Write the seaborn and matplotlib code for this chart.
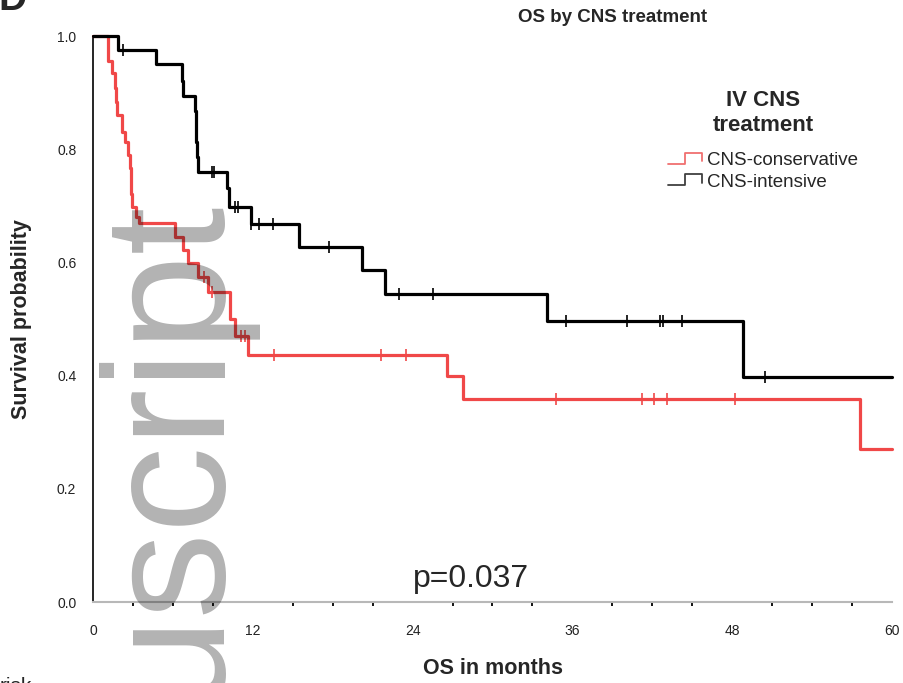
import numpy as np
import pandas as pd
import matplotlib
matplotlib.use('Agg')
import matplotlib.pyplot as plt
import seaborn as sns
from matplotlib.legend_handler import HandlerBase
from matplotlib.lines import Line2D
from matplotlib.ticker import MultipleLocator

# ---------------- data ----------------
groups = ['CNS-conservative', 'CNS-intensive']
group_colors = ['#f04848', '#000000']

cons_time = [0, 1.11, 1.40, 1.65, 1.75, 1.82, 2.15, 2.40, 2.65, 2.75, 2.82, 2.88, 2.95,
             3.23, 3.48, 6.16, 6.78, 7.16, 7.90, 8.60, 10.30, 10.65, 11.65, 26.6, 27.8,
             57.6, 60]
cons_surv = [1.0, 0.955, 0.935, 0.908, 0.884, 0.860, 0.830, 0.813, 0.790, 0.767, 0.744,
             0.721, 0.698, 0.681, 0.669, 0.645, 0.622, 0.599, 0.575, 0.548, 0.500, 0.470,
             0.436, 0.400, 0.359, 0.270, 0.270]
cons_censor = [8.3, 8.9, 11.1, 11.45, 13.6, 21.6, 23.5, 34.8, 41.2, 42.1, 43.1, 48.2]

int_time = [0, 1.9, 4.75, 6.66, 6.78, 7.66, 7.72, 7.76, 7.80, 7.85, 10.1, 10.23, 11.84,
            15.5, 20.2, 21.9, 34.1, 48.8, 60]
int_surv = [1.0, 0.975, 0.950, 0.920, 0.894, 0.867, 0.840, 0.813, 0.787, 0.760, 0.731,
            0.698, 0.667, 0.627, 0.587, 0.545, 0.497, 0.397, 0.397]
int_censor = [2.25, 8.95, 9.1, 10.65, 10.9, 11.9, 12.5, 13.5, 17.7, 23.0, 25.5, 35.5,
              40.1, 42.6, 42.8, 44.2, 50.5]

x_ticks = [0, 12, 24, 36, 48, 60]
y_ticks = [0.0, 0.2, 0.4, 0.6, 0.8, 1.0]

title_text = 'OS by CNS treatment'
x_label = 'OS in months'
y_label = 'Survival probability'
legend_title = 'IV CNS\ntreatment'
p_text = 'p=0.037'

# ---------------- style ----------------
sns.set_style('white')
plt.rcParams['font.family'] = ['Liberation Sans', 'DejaVu Sans']

fig = plt.figure(figsize=(9.04, 6.83), dpi=100)
ax = fig.add_axes([93/904, 1-602/683, 799/904, 566/683])

curves = pd.concat([
    pd.DataFrame({'time': cons_time, 'surv': cons_surv, 'group': groups[0]}),
    pd.DataFrame({'time': int_time, 'surv': int_surv, 'group': groups[1]}),
], ignore_index=True)

sns.lineplot(data=curves, x='time', y='surv', hue='group', hue_order=groups,
             palette=dict(zip(groups, group_colors)), drawstyle='steps-post',
             estimator=None, sort=False, linewidth=2.3, legend=False, ax=ax,
             clip_on=False, zorder=3)

def surv_at(times, survs, ts):
    times = np.asarray(times); survs = np.asarray(survs)
    idx = np.searchsorted(times, ts, side='right') - 1
    return survs[idx]

for tms, svs, cens, col in [(cons_time, cons_surv, cons_censor, group_colors[0]),
                            (int_time, int_surv, int_censor, group_colors[1])]:
    ax.plot(cens, surv_at(tms, svs, cens), linestyle='none', marker='|',
            markersize=9, markeredgewidth=1.2, color=col, zorder=4, clip_on=False)

ax.set_xlim(0, 60)
ax.set_ylim(0, 1)
ax.set_xticks(x_ticks)
ax.set_yticks(y_ticks)
ax.set_yticklabels([f'{v:.1f}' for v in y_ticks])
ax.xaxis.set_minor_locator(MultipleLocator(3))

for s in ['top', 'right']:
    ax.spines[s].set_visible(False)
ax.spines['left'].set_color('black')
ax.spines['left'].set_linewidth(1.2)
ax.spines['bottom'].set_color('#b8b8b8')
ax.spines['bottom'].set_linewidth(1.5)

ax.tick_params(axis='y', which='major', direction='out', length=7, width=1.5,
               color='#b0b0b0', labelsize=10, pad=5, labelcolor='#222222')
ax.tick_params(axis='x', which='major', direction='out', length=8, width=1.8,
               color='#b8b8b8', labelsize=10, pad=8, labelcolor='#222222')
ax.tick_params(axis='x', which='minor', direction='out', length=3, width=1.3,
               color='black', bottom=True)

ax.set_xlabel(x_label, fontsize=15.5, fontweight='bold')
ax.set_ylabel(y_label, fontsize=15.5, fontweight='bold')
ax.xaxis.label.set_va('center')
ax.yaxis.label.set_va('center')
ax.xaxis.set_label_coords(0.5006, (602-669)/566)
ax.yaxis.set_label_coords((22-93)/799, 0.5)

ax.text(24.0, 0.027, p_text, fontsize=23, ha='left', va='baseline')

fig.text(613/904, 1-18/683, title_text, ha='center', va='center',
         fontsize=13.5, fontweight='bold')

# legend with step-shaped handles
class StepHandler(HandlerBase):
    def create_artists(self, legend, orig_handle, xdescent, ydescent, width, height,
                       fontsize, trans):
        x0 = -xdescent
        y0 = -ydescent
        xs = [x0, x0 + 0.5*width, x0 + 0.5*width, x0 + width, x0 + width]
        ys = [y0 + 0.1*height, y0 + 0.1*height, y0 + 0.95*height, y0 + 0.95*height,
              y0 + 0.3*height]
        ln = Line2D(xs, ys, color=orig_handle.get_color(),
                    linewidth=orig_handle.get_linewidth(), transform=trans)
        return [ln]

handles = [Line2D([], [], color='#f07070', linewidth=1.3),
           Line2D([], [], color='#404040', linewidth=1.3)]
leg = ax.legend(handles, groups, title=legend_title, loc='upper left',
                bbox_to_anchor=(659/904, 1-81/683), bbox_transform=fig.transFigure,
                frameon=False, fontsize=13.5, borderpad=0, handlelength=1.8,
                handletextpad=0.25, labelspacing=0.22,
                handler_map={Line2D: StepHandler()},
                title_fontproperties={'weight': 'bold', 'size': 16})
leg.get_title().set_multialignment('center')
leg._legend_box.sep = 12

# watermark and cut-off panel texts
fig.text(214/904, 1-195/683, 'uscript', rotation=90, rotation_mode='anchor',
         ha='right', va='baseline', fontsize=124, color='black', alpha=0.3, zorder=10)
fig.text(27/904, 1-10/683, 'D', ha='right', va='baseline', fontsize=28,
         fontweight='bold')
fig.text(0/904, 1-692/683, 'risk', ha='left', va='baseline', fontsize=15)

fig.savefig('out.png', dpi=100)
